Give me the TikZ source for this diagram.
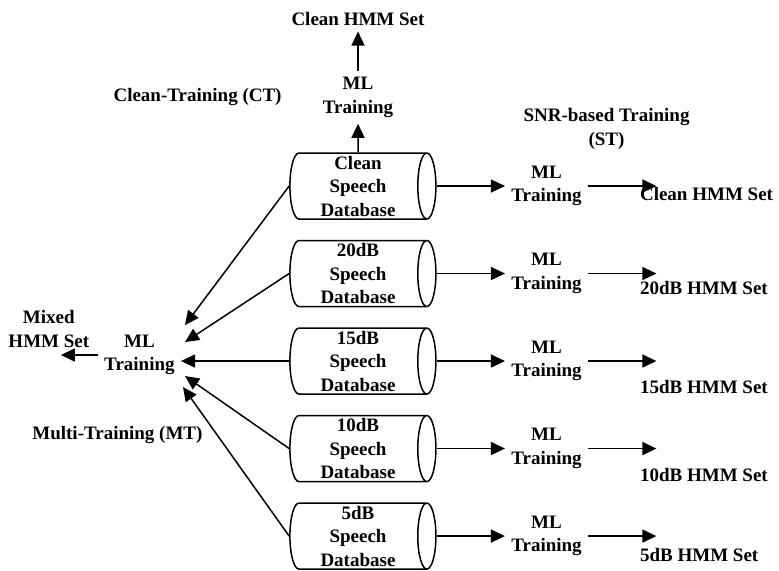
\documentclass[tikz,border=0pt]{standalone}
\usepackage{fontspec}
\setmainfont{Liberation Serif}
\usetikzlibrary{arrows.meta, positioning, shapes.geometric}

\begin{document}
\begin{tikzpicture}[
    font=\fontsize{9.5}{11.75}\selectfont\bfseries,
    database/.style={draw, line width=0.75pt, cylinder, aspect=0.3,
                     minimum width=33pt, minimum height=73pt,
                     inner xsep=2pt, inner ysep=0pt, align=center},
    txt/.style={align=center, inner sep=3pt},
    arr/.style={-{Triangle[length=7pt, width=6.5pt]}, line width=0.75pt}
]
    \useasboundingbox (-179pt,93pt) rectangle (210.5pt,-192pt);

    % speech databases
    \node[database] (dbclean) at (0,0) {Clean\\Speech\\Database};
    \node[database, below=10pt of dbclean] (db20) {20dB\\Speech\\Database};
    \node[database, below=10pt of db20] (db15) {15dB\\Speech\\Database};
    \node[database, below=10pt of db15] (db10) {10dB\\Speech\\Database};
    \node[database, below=10pt of db10] (db5) {5dB\\Speech\\Database};

    % clean-training (CT)
    \node[txt, above=0.5cm of dbclean] (mltop) {ML\\Training};
    \node[txt, above=0.69cm of mltop] (hmmtop) {Clean HMM Set};
    \node[txt, left=0.5cm of mltop] (ct) {Clean-Training (CT)};
    \draw[arr] (dbclean) -- (mltop);
    \draw[arr] (mltop) -- (hmmtop);

    % SNR-based training (ST)
    \node[txt, right=1.2cm of dbclean] (mlclean) {ML\\Training};
    \node[txt, right=1.2cm of db20] (ml20) {ML\\Training};
    \node[txt, right=1.2cm of db15] (ml15) {ML\\Training};
    \node[txt, right=1.2cm of db10] (ml10) {ML\\Training};
    \node[txt, right=1.2cm of db5] (ml5) {ML\\Training};
    \node[txt, above=2pt of mlclean, xshift=30pt] (st) {SNR-based Training\\(ST)};

    \coordinate[right=1.2cm of mlclean] (endclean);
    \coordinate[right=1.2cm of ml20] (end20);
    \coordinate[right=1.2cm of ml15] (end15);
    \coordinate[right=1.2cm of ml10] (end10);
    \coordinate[right=1.2cm of ml5] (end5);

    \node[txt, right=0.8cm of mlclean, yshift=-4pt] (hmmclean) {Clean HMM Set};
    \node[txt, right=0.8cm of ml20, yshift=-7pt] (hmm20) {20dB HMM Set};
    \node[txt, right=0.8cm of ml15, yshift=-13pt] (hmm15) {15dB HMM Set};
    \node[txt, right=0.8cm of ml10, yshift=-13pt] (hmm10) {10dB HMM Set};
    \node[txt, right=0.8cm of ml5, yshift=-9.5pt] (hmm5) {5dB HMM Set};

    \draw[arr] (dbclean) -- (mlclean);
    \draw[arr] (db20) -- (ml20);
    \draw[arr] (db15) -- (ml15);
    \draw[arr] (db10) -- (ml10);
    \draw[arr] (db5) -- (ml5);
    \draw[arr] (mlclean) -- (endclean);
    \draw[arr] (ml20) -- (end20);
    \draw[arr] (ml15) -- (end15);
    \draw[arr] (ml10) -- (end10);
    \draw[arr] (ml5) -- (end5);

    % multi-training (MT)
    \node[txt, left=1.9cm of db15, yshift=3pt] (mlmix) {ML\\Training};
    \coordinate[left=0.65cm of mlmix] (mixend);
    \node[txt, above=0.5pt of mixend, xshift=-6pt] (mixed) {Mixed\\HMM Set};
    \node[txt, below=0.67cm of mlmix, xshift=-11pt] (mt) {Multi-Training (MT)};
    \draw[arr] (mlmix) -- (mixend);
    \draw[arr] (dbclean.west) -- ([xshift=2pt, yshift=15pt]mlmix.east);
    \draw[arr] (db20.west) -- ([xshift=2pt, yshift=6.5pt]mlmix.east);
    \draw[arr] (db15.west) -- (db15.west -| mlmix.east);
    \draw[arr] (db10.west) -- ([xshift=2pt, yshift=-10.5pt]mlmix.east);
    \draw[arr] (db5.west) -- ([xshift=1pt, yshift=-16pt]mlmix.east);
\end{tikzpicture}
\end{document}
